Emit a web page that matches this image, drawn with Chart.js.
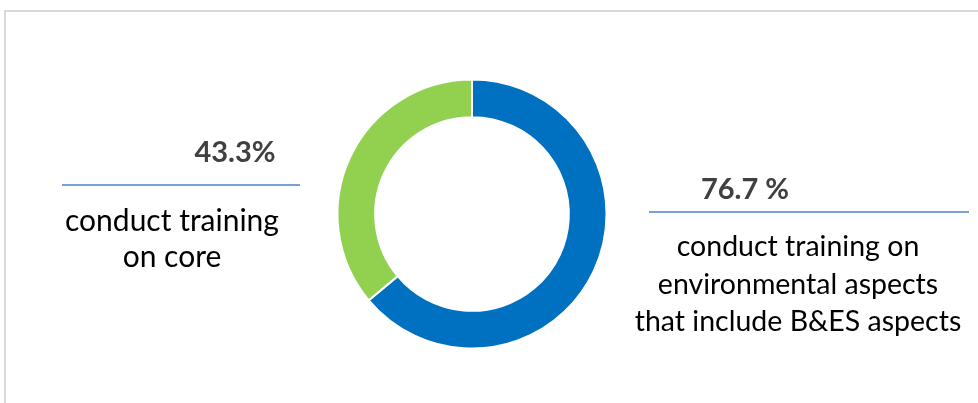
<!DOCTYPE html>
<html>
<head>
<meta charset="utf-8">
<script src="https://cdn.jsdelivr.net/npm/chart.js@4"></script>
<style>
  html, body { margin: 0; padding: 0; background: #fff; }
  #wrap { position: relative; width: 978px; height: 403px; overflow: hidden; }
  #frame { position: absolute; left: 4px; top: 10px; width: 1000px; height: 500px;
           border-top: 2px solid #d9d9d9; border-left: 2px solid #d9d9d9; box-sizing: border-box; }
  canvas { position: absolute; left: 0; top: 0; }
</style>
</head>
<body>
<div id="wrap">
  <div id="frame"></div>
  <canvas id="c" width="978" height="403"></canvas>
</div>
<script>
const categories = [
  ["conduct training on", "environmental aspects", "that include B&ES aspects"],
  ["conduct training", "on core"]
];
const values = [76.7, 43.3];
const valueLabels = ["76.7 %", "43.3%"];
const colors = ["#0070C0", "#92D050"];

const calloutPlugin = {
  id: 'callouts',
  afterDraw(chart) {
    const ctx = chart.ctx;
    ctx.save();
    const layouts = [
      {px: 745, py: 190, lx1: 649, lx2: 969, ly: 212, tx: 798, ty: 247, gap: 37.5, fs: 28.5},
      {px: 235, py: 153, lx1: 62, lx2: 300, ly: 185, tx: 172, ty: 221, gap: 36, fs: 30}
    ];
    values.forEach((v, i) => {
      const L = layouts[i];
      ctx.font = "bold 29px Lato";
      ctx.fillStyle = "#404040";
      ctx.textAlign = "center";
      ctx.textBaseline = "middle";
      ctx.fillText(valueLabels[i], L.px, L.py);
      ctx.strokeStyle = "#4F81C7";
      ctx.lineWidth = 1.5;
      ctx.beginPath();
      ctx.moveTo(L.lx1, L.ly);
      ctx.lineTo(L.lx2, L.ly);
      ctx.stroke();
      ctx.font = L.fs + "px Lato";
      ctx.fillStyle = "#000000";
      categories[i].forEach((t, j) => ctx.fillText(t, L.tx, L.ty + j * L.gap));
    });
    ctx.restore();
  }
};

new Chart(document.getElementById('c'), {
  type: 'doughnut',
  data: {
    labels: categories.map(c => c.join(' ')),
    datasets: [{
      data: values,
      backgroundColor: colors,
      borderColor: '#ffffff',
      borderWidth: 2
    }]
  },
  options: {
    responsive: false,
    animation: false,
    cutout: '72%',
    layout: { padding: { top: 78.5, bottom: 53.5, left: 300, right: 334 } },
    plugins: { legend: { display: false }, tooltip: { enabled: false } }
  },
  plugins: [calloutPlugin]
});
</script>
</body>
</html>
